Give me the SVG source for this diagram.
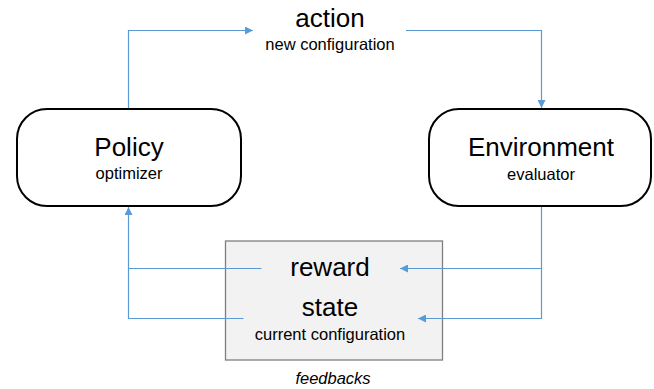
<svg xmlns="http://www.w3.org/2000/svg" width="654" height="389" viewBox="0 0 654 389">
<style>
text{font-family:"Liberation Sans",Arial,sans-serif;fill:#000;text-anchor:middle}
.big{font-size:26px}
.small{font-size:16.5px}
.node{fill:#fff;stroke:#000;stroke-width:2}
.fb{fill:#f2f2f2;stroke:#7f7f7f;stroke-width:1.3}
.conn{fill:none;stroke:#5b9bd5;stroke-width:1.2}
</style>
<defs>
<marker id="ah" viewBox="0 0 10 10" refX="10" refY="5" markerWidth="8" markerHeight="8" markerUnits="userSpaceOnUse" orient="auto">
<path d="M0,0 L10,5 L0,10 z" fill="#5b9bd5"/>
</marker>
</defs>
<g id="feedbacks">
<rect class="fb" x="225.5" y="241" width="217" height="119"/>
<text class="small" x="333" y="384" font-style="italic">feedbacks</text>
</g>
<g id="connectors">
<polyline class="conn" points="128.5,109 128.5,30.5 253,30.5" marker-end="url(#ah)"/>
<polyline class="conn" points="406,30.5 541.5,30.5 541.5,108" marker-end="url(#ah)"/>
<polyline class="conn" points="541.5,206 541.5,268.5 400,268.5" marker-end="url(#ah)"/>
<polyline class="conn" points="541.5,268.5 541.5,318.5 418,318.5" marker-end="url(#ah)"/>
<polyline class="conn" points="261.5,268.5 128.5,268.5 128.5,207" marker-end="url(#ah)"/>
<polyline class="conn" points="243.5,318.5 128.5,318.5 128.5,268.5"/>
</g>
<g id="policy">
<rect class="node" x="17" y="109" width="224" height="97" rx="30" ry="30"/>
<text class="big" x="129" y="156">Policy</text>
<text class="small" x="129" y="179">optimizer</text>
</g>
<g id="environment">
<rect class="node" x="429" y="109" width="222" height="97" rx="30" ry="30"/>
<text class="big" x="541" y="156">Environment</text>
<text class="small" x="541" y="180">evaluator</text>
</g>
<g id="action">
<text class="big" x="330" y="27">action</text>
<text class="small" x="330" y="50">new configuration</text>
</g>
<g id="reward">
<text class="big" x="330" y="276">reward</text>
</g>
<g id="state">
<text class="big" x="330" y="316">state</text>
<text class="small" x="330" y="340">current configuration</text>
</g>
</svg>
